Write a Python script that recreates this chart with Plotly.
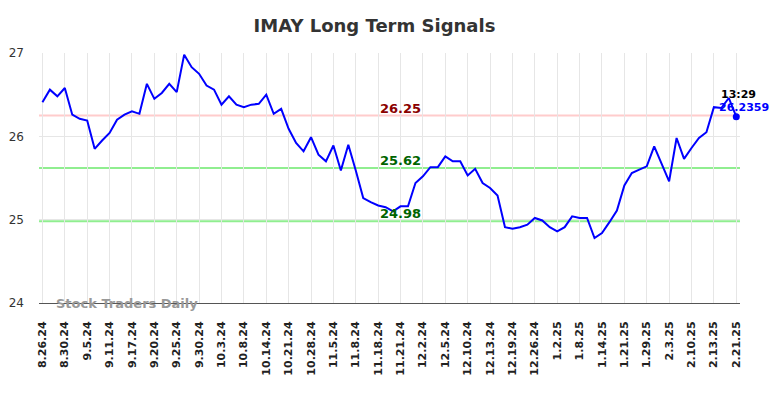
import plotly.graph_objects as go

tick_labels = ["8.26.24", "8.30.24", "9.5.24", "9.11.24", "9.17.24", "9.20.24", "9.25.24",
               "9.30.24", "10.3.24", "10.8.24", "10.14.24", "10.21.24", "10.28.24", "11.5.24",
               "11.8.24", "11.18.24", "11.21.24", "12.2.24", "12.5.24", "12.10.24", "12.13.24",
               "12.19.24", "12.26.24", "1.2.25", "1.8.25", "1.14.25", "1.21.25", "1.29.25",
               "2.3.25", "2.10.25", "2.13.25", "2.21.25"]

prices = [26.41, 26.56, 26.48, 26.58, 26.26, 26.21, 26.19, 25.85, 25.95, 26.04,
          26.20, 26.26, 26.30, 26.27, 26.63, 26.45, 26.52, 26.63, 26.53, 26.98,
          26.83, 26.75, 26.61, 26.56, 26.38, 26.48, 26.38, 26.35, 26.38, 26.39,
          26.50, 26.27, 26.33, 26.09, 25.92, 25.82, 25.99, 25.78, 25.70, 25.89,
          25.59, 25.90, 25.59, 25.26, 25.21, 25.17, 25.15, 25.10, 25.16, 25.16,
          25.44, 25.52, 25.63, 25.63, 25.76, 25.70, 25.70, 25.53, 25.61, 25.44,
          25.38, 25.29, 24.91, 24.89, 24.91, 24.94, 25.02, 24.99, 24.91, 24.86,
          24.91, 25.04, 25.02, 25.02, 24.78, 24.84, 24.97, 25.11, 25.41, 25.56,
          25.60, 25.64, 25.88, 25.67, 25.46, 25.98, 25.73, 25.86, 25.98, 26.05,
          26.35, 26.34, 26.46, 26.2359]

resistance = 26.25
support_levels = [25.62, 24.98]
last_time = "13:29"
title_text = "IMAY Long Term Signals"
watermark = "Stock Traders Daily"

x = list(range(len(prices)))
tick_step = 3
tickvals = [i * tick_step for i in range(len(tick_labels))]

fig = go.Figure()

fig.add_hline(y=resistance, line=dict(color="#ffcccc", width=2), layer="below")
for s in support_levels:
    fig.add_hline(y=s, line=dict(color="#90ee90", width=2), layer="below")

fig.add_trace(go.Scatter(x=x, y=prices, mode="lines",
                         line=dict(color="#0000ff", width=2), hoverinfo="skip"))
fig.add_trace(go.Scatter(x=[x[-1]], y=[prices[-1]], mode="markers",
                         marker=dict(color="#0000ff", size=7), hoverinfo="skip"))

mid = 48
fig.add_annotation(x=mid, y=resistance, text=str(resistance), showarrow=False,
                   yanchor="bottom", yshift=-2,
                   font=dict(family="DejaVu Sans", size=13, color="#8b0000", weight="bold"))
for s in support_levels:
    fig.add_annotation(x=mid, y=s, text=f"{s:.2f}", showarrow=False,
                       yanchor="bottom", yshift=-2,
                       font=dict(family="DejaVu Sans", size=13, color="#006400", weight="bold"))

fig.add_annotation(x=x[-1], y=prices[-1], text=last_time, showarrow=False,
                   xanchor="center", yanchor="bottom", xshift=2, yshift=14,
                   font=dict(family="DejaVu Sans", size=11, color="#000000", weight="bold"))
fig.add_annotation(x=x[-1], y=prices[-1], text=f"{prices[-1]:.4f}", showarrow=False,
                   xanchor="center", yanchor="bottom", xshift=8, yshift=1,
                   font=dict(family="DejaVu Sans", size=11, color="#0000ff", weight="bold"))

fig.add_annotation(x=0.021, y=0.0, xref="paper", yref="paper", text=watermark,
                   showarrow=False, xanchor="left", yanchor="middle",
                   font=dict(family="DejaVu Sans", size=13, color="#999999", weight="bold"))

fig.update_layout(
    width=784, height=398,
    margin=dict(l=39, r=44, t=53, b=95, autoexpand=False),
    paper_bgcolor="white", plot_bgcolor="white",
    showlegend=False,
    title=dict(text=title_text, x=0.4786, xref="paper", xanchor="center",
               yref="container", y=1 - 26 / 398, yanchor="middle",
               font=dict(family="DejaVu Sans", size=18, color="#333333", weight="bold")),
    xaxis=dict(range=[-0.46, len(prices) - 0.5], tickmode="array", tickvals=tickvals,
               ticktext=tick_labels, tickangle=-90, showgrid=True, gridcolor="#e6e6e6",
               gridwidth=1, zeroline=False, showline=True, linecolor="#555555", linewidth=1,
               ticks="", ticklabelstandoff=13, automargin=False,
               tickfont=dict(family="DejaVu Sans", size=11, color="#222222", weight="bold")),
    yaxis=dict(range=[24, 27], tickvals=[24, 25, 26, 27], showgrid=True,
               gridcolor="#e6e6e6", gridwidth=1, zeroline=False, showline=False,
               ticks="", ticklabelstandoff=14, automargin=False,
               tickfont=dict(family="DejaVu Sans", size=12, color="#333333")),
)

fig.write_html("out.html", config={"displayModeBar": False, "staticPlot": True})

with open("out.html", "r", encoding="utf-8") as f:
    html = f.read()
html = html.replace("<head>", "<head><style>html,body{margin:0;padding:0;overflow:hidden;}</style>", 1)
with open("out.html", "w", encoding="utf-8") as f:
    f.write(html)
